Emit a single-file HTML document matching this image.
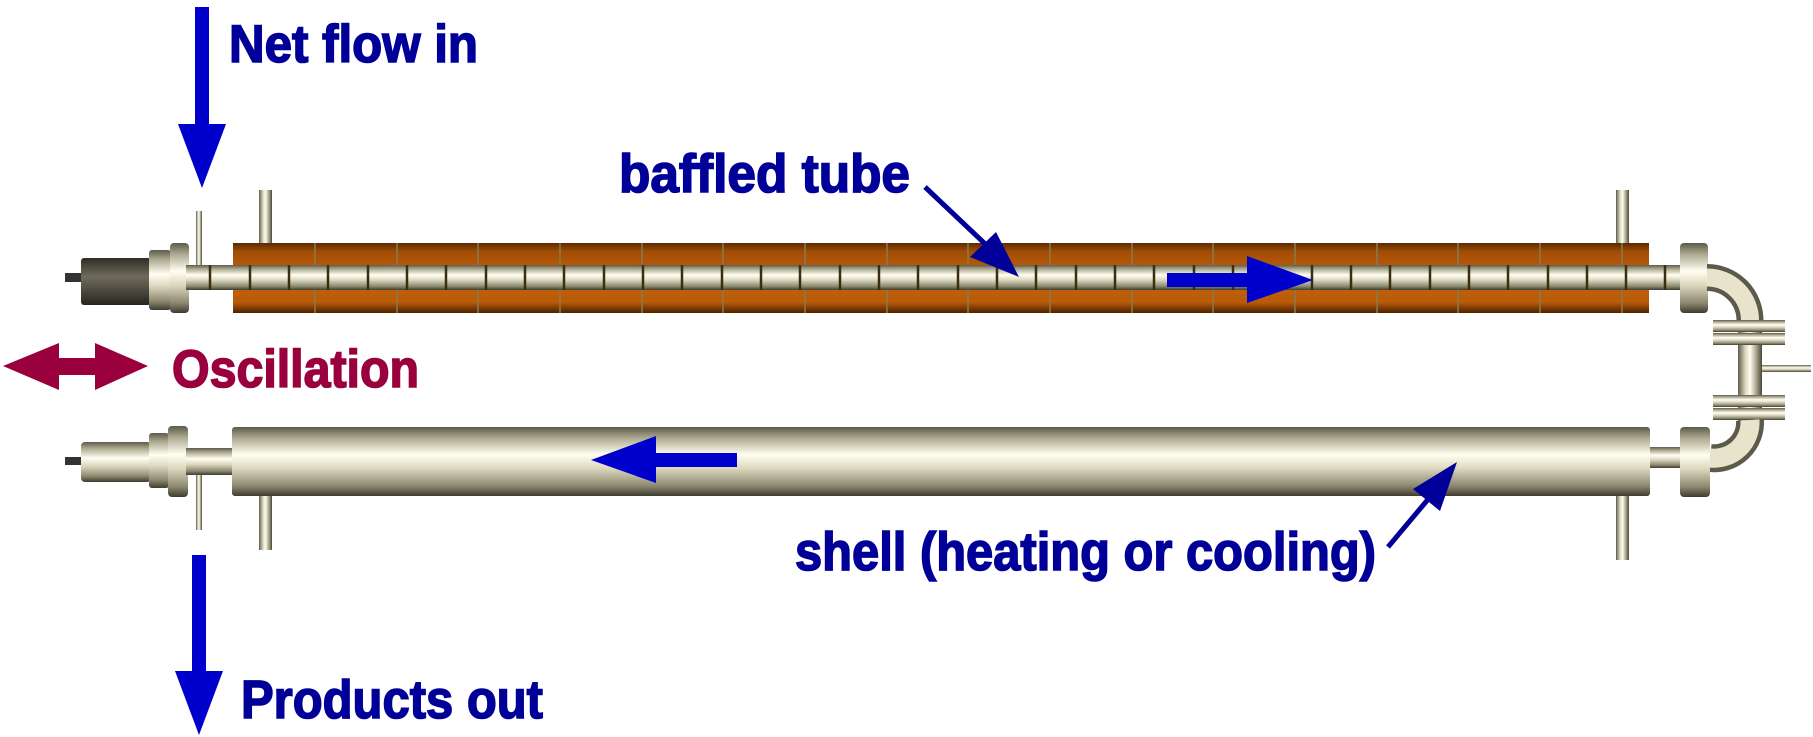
<!DOCTYPE html>
<html><head><meta charset="utf-8"><style>
html,body{margin:0;padding:0;background:#fff;}
svg{display:block;}
text{font-family:"Liberation Sans",sans-serif;font-weight:bold;}
</style></head><body>
<svg width="1813" height="737" viewBox="0 0 1813 737" xmlns="http://www.w3.org/2000/svg">
<defs>
<linearGradient id="org" x1="0" y1="0" x2="0" y2="1">
<stop offset="0" stop-color="#5a2a00"/><stop offset="0.12" stop-color="#a04d05"/><stop offset="0.5" stop-color="#c8620c"/><stop offset="0.85" stop-color="#b85a08"/><stop offset="1" stop-color="#4a2200"/>
</linearGradient>
<linearGradient id="met" x1="0" y1="0" x2="0" y2="1">
<stop offset="0" stop-color="#5c5a4a"/><stop offset="0.15" stop-color="#a9a58c"/><stop offset="0.4" stop-color="#fffff2"/><stop offset="0.6" stop-color="#dcd8bf"/><stop offset="0.85" stop-color="#8e8a72"/><stop offset="1" stop-color="#3e3c30"/>
</linearGradient>
<linearGradient id="metH" x1="0" y1="0" x2="1" y2="0">
<stop offset="0" stop-color="#5c5a4a"/><stop offset="0.3" stop-color="#d9d5bc"/><stop offset="0.5" stop-color="#fffff2"/><stop offset="0.8" stop-color="#9a967e"/><stop offset="1" stop-color="#4a4838"/>
</linearGradient>
<linearGradient id="dark" x1="0" y1="0" x2="0" y2="1">
<stop offset="0" stop-color="#2e2d26"/><stop offset="0.4" stop-color="#6f6c5c"/><stop offset="1" stop-color="#26251f"/>
</linearGradient>
</defs>

<rect x="259" y="190" width="13" height="55" fill="url(#metH)"/>
<rect x="1616" y="190" width="13" height="55" fill="url(#metH)"/>
<rect x="259" y="495" width="13" height="55" fill="url(#metH)"/>
<rect x="1616" y="495" width="13" height="65" fill="url(#metH)"/>
<rect x="196" y="211" width="6" height="70" fill="url(#metH)"/>
<rect x="196" y="475" width="6" height="55" fill="url(#metH)"/>

<rect x="65" y="273" width="18" height="9" fill="#333"/>
<rect x="81" y="258" width="70" height="47" rx="3" fill="url(#dark)"/>
<rect x="149" y="250" width="22" height="60" rx="3" fill="url(#met)"/>
<rect x="170" y="243" width="19" height="70" rx="4" fill="url(#met)"/>
<rect x="233" y="243" width="1416" height="70" fill="url(#org)"/>
<g stroke="#8a7a50" stroke-width="1.5">
<path d="M315 243V313M397 243V313M478 243V313M560 243V313M642 243V313M723 243V313M805 243V313M887 243V313M968 243V313M1050 243V313M1132 243V313M1213 243V313M1295 243V313M1377 243V313M1458 243V313M1540 243V313M1622 243V313"/>
</g>
<rect x="186" y="265" width="1525" height="25" fill="url(#met)"/>
<g stroke="#3a2e10" stroke-width="2.5">
<path d="M210 265V290M250 265V290M289 265V290M328 265V290M368 265V290M407 265V290M446 265V290M486 265V290M525 265V290M564 265V290M604 265V290M643 265V290M682 265V290M722 265V290M761 265V290M800 265V290M840 265V290M879 265V290M918 265V290M958 265V290M997 265V290M1036 265V290M1076 265V290M1115 265V290M1154 265V290M1194 265V290M1233 265V290M1272 265V290M1312 265V290M1351 265V290M1390 265V290M1430 265V290M1469 265V290M1508 265V290M1548 265V290M1587 265V290M1626 265V290M1665 265V290M1692 265V290"/>
</g>
<rect x="1680" y="243" width="28" height="70" rx="4" fill="url(#met)"/>
<path d="M1707 277.5 A43 43 0 0 1 1750 320.5" fill="none" stroke="#5c5a4a" stroke-width="27"/>
<path d="M1707 277.5 A43 43 0 0 1 1750 320.5" fill="none" stroke="#e8e4cc" stroke-width="18"/>
<rect x="1738" y="320" width="24" height="110" fill="url(#metH)"/>
<rect x="1762" y="365" width="49" height="7" fill="url(#met)"/>
<rect x="1713" y="320" width="72" height="12" fill="url(#met)"/>
<rect x="1713" y="333" width="72" height="12" fill="url(#met)"/>
<rect x="1713" y="395" width="72" height="12" fill="url(#met)"/>
<rect x="1713" y="408" width="72" height="12" fill="url(#met)"/>
<path d="M1750 420 A36 36 0 0 1 1710 458" fill="none" stroke="#5c5a4a" stroke-width="28"/>
<path d="M1750 420 A36 36 0 0 1 1710 458" fill="none" stroke="#e8e4cc" stroke-width="19"/>

<rect x="65" y="457" width="18" height="8" fill="#333"/>
<rect x="81" y="442" width="70" height="40" rx="4" fill="url(#met)"/>
<rect x="149" y="433" width="20" height="55" rx="3" fill="url(#met)"/>
<rect x="168" y="426" width="20" height="71" rx="4" fill="url(#met)"/>
<rect x="186" y="448" width="50" height="27" fill="url(#met)"/>
<rect x="1648" y="447" width="35" height="21" fill="url(#met)"/>
<rect x="1680" y="427" width="30" height="70" rx="4" fill="url(#met)"/>
<rect x="232" y="427" width="1418" height="69" rx="3" fill="url(#met)"/>

<g fill="#0000cc">
<rect x="195" y="7" width="14" height="118"/>
<polygon points="178,124 226,124 202,188"/>
<rect x="192" y="555" width="14" height="118"/>
<polygon points="175,671 223,671 199,735"/>
<rect x="1167" y="273" width="82" height="14"/>
<polygon points="1247,256 1313,280 1247,303"/>
<rect x="654" y="453" width="83" height="14"/>
<polygon points="656,436 591,460 656,483"/>
</g>
<g fill="#99003d">
<rect x="55" y="358" width="45" height="17"/>
<polygon points="3,366 59,343 59,390"/>
<polygon points="148,366 95,343 95,390"/>
</g>
<g fill="#000099" stroke="#000099">
<line x1="925" y1="187" x2="1000" y2="258" stroke-width="5"/>
<polygon points="1019,277 970,257 996,232" stroke="none"/>
<line x1="1388" y1="547" x2="1430" y2="497" stroke-width="5"/>
<polygon points="1457,462 1413,489 1440,511" stroke="none"/>
</g>

<g fill="#000099" stroke="#000099" stroke-width="1.6">
<text x="229" y="62" font-size="53" textLength="249" lengthAdjust="spacingAndGlyphs">Net flow in</text>
<text x="619" y="192" font-size="54" textLength="291" lengthAdjust="spacingAndGlyphs">baffled tube</text>
<text x="795" y="570" font-size="54" textLength="581" lengthAdjust="spacingAndGlyphs">shell (heating or cooling)</text>
<text x="241" y="718" font-size="54" textLength="302" lengthAdjust="spacingAndGlyphs">Products out</text>
</g>
<text x="172" y="387" font-size="53" fill="#99003d" stroke="#99003d" stroke-width="1.6" textLength="247" lengthAdjust="spacingAndGlyphs">Oscillation</text>
</svg>
</body></html>
